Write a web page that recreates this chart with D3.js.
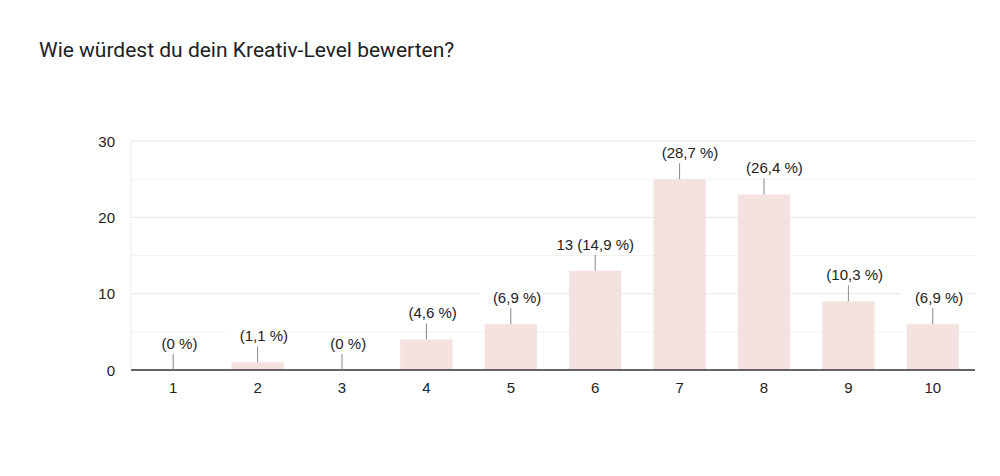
<!DOCTYPE html>
<html lang="de">
<head>
<meta charset="UTF-8">
<title>Kreativ-Level</title>
<script src="https://cdn.jsdelivr.net/npm/d3@7"></script>
<style>
    body { margin: 0; background: #fff; }
    svg { display: block; }
    .title { font-family: Roboto, sans-serif; font-size: 21px; fill: #202124; }
    .axis text { font-family: "Liberation Sans", Arial, sans-serif; font-size: 15px; fill: #222; }
    .lbl { font-family: "Liberation Sans", Arial, sans-serif; font-size: 15px; fill: #222; }
</style>
</head>
<body>
<svg id="chart" width="1000" height="476"></svg>
<script>
    // Daten
    var categories = ["1","2","3","4","5","6","7","8","9","10"];
    var counts = [0, 1, 0, 4, 6, 13, 25, 23, 9, 6];
    var percentLabels = ["(0 %)","(1,1 %)","(0 %)","(4,6 %)","(6,9 %)","(14,9 %)","(28,7 %)","(26,4 %)","(10,3 %)","(6,9 %)"];
    var countVisible = [false, false, false, false, false, true, false, false, false, false];
    var yTicks = [0, 10, 20, 30];
    var yGrid = [5, 10, 15, 20, 25, 30];

    var svg = d3.select("#chart");
    var m = {left: 131, right: 25, top: 141, bottom: 106};
    var W = 1000, H = 476;

    svg.append("text").attr("class", "title")
        .attr("x", 39).attr("y", 57)
        .text("Wie würdest du dein Kreativ-Level bewerten?");

    var x = d3.scaleBand().domain(categories)
        .range([m.left, W - m.right]).paddingInner(0.38).paddingOuter(0.19);
    var y = d3.scaleLinear().domain([0, 30]).range([H - m.bottom, m.top]);

    // Gitterlinien
    svg.append("g").selectAll("line").data(yGrid).enter().append("line")
        .attr("x1", m.left).attr("x2", W - m.right)
        .attr("y1", d => y(d)).attr("y2", d => y(d))
        .attr("stroke", d => d % 10 == 0 ? "#e6e6e6" : "#f2f2f2")
        .attr("stroke-width", 1);
    svg.append("line")
        .attr("x1", m.left).attr("x2", m.left)
        .attr("y1", y(30)).attr("y2", y(0))
        .attr("stroke", "#ececec");

    // Balken
    svg.append("g").selectAll("rect").data(counts).enter().append("rect")
        .attr("x", (d, i) => x(categories[i]))
        .attr("y", d => y(d))
        .attr("width", x.bandwidth())
        .attr("height", d => y(0) - y(d))
        .attr("fill", "#f3e2df");

    // y-Achse
    var yAxis = svg.append("g").attr("class", "axis")
        .attr("transform", "translate(" + (m.left - 16) + ",0)")
        .call(d3.axisLeft(y).tickValues(yTicks).tickSize(0).tickPadding(0));
    yAxis.select(".domain").remove();
    yAxis.selectAll("text").attr("dy", "0.35em");

    // x-Achse
    var xAxis = svg.append("g").attr("class", "axis")
        .attr("transform", "translate(0," + y(0) + ")")
        .call(d3.axisBottom(x).tickSize(0).tickPadding(12));
    xAxis.select(".domain").attr("stroke", "#333").attr("stroke-width", 1.5)
        .attr("d", "M" + m.left + ",0H" + (W - m.right));

    // Beschriftungen mit Führungslinie
    var lab = svg.append("g").selectAll("g").data(counts).enter().append("g")
        .attr("transform", (d, i) => "translate(" + (x(categories[i]) + x.bandwidth() / 2) + "," + y(d) + ")");

    lab.append("line")
        .attr("x1", 0).attr("x2", 0).attr("y1", 0).attr("y2", -16)
        .attr("stroke", "#888").attr("stroke-width", 1);

    var txt = lab.append("text").attr("class", "lbl")
        .attr("text-anchor", "middle").attr("y", -21);
    txt.append("tspan")
        .attr("fill", (d, i) => countVisible[i] ? "#222" : "#fff")
        .text(d => d + " ");
    txt.append("tspan").text((d, i) => percentLabels[i]);

    // weißer Hintergrund hinter Text
    txt.each(function() {
        var b = this.getBBox();
        d3.select(this.parentNode).insert("rect", "text")
            .attr("x", b.x - 1).attr("y", b.y - 1)
            .attr("width", b.width + 2).attr("height", b.height + 2)
            .attr("fill", "#fff");
    });
</script>
</body>
</html>
